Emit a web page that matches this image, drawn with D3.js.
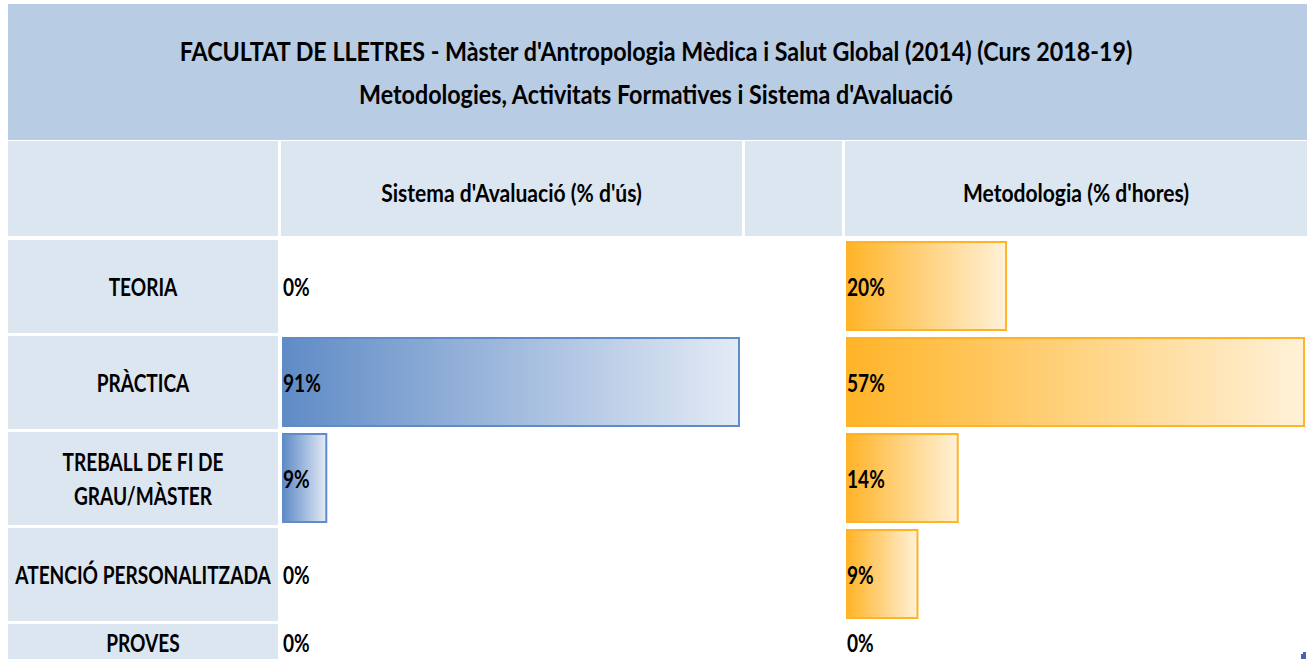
<!DOCTYPE html>
<html>
<head>
<meta charset="utf-8">
<script src="https://cdn.jsdelivr.net/npm/d3@7"></script>
<style>
  html, body { margin: 0; padding: 0; background: #ffffff; }
  svg { display: block; }
  text { font-family: Lato, "Open Sans", "Liberation Sans", sans-serif; font-weight: bold; fill: #000; }
</style>
</head>
<body>
<svg id="chart" width="1307" height="659"></svg>
<script>
// Title lines of the report
const titleLines = [
  "FACULTAT DE LLETRES - Màster d'Antropologia Mèdica i Salut Global (2014) (Curs 2018-19)",
  "Metodologies, Activitats Formatives i Sistema d'Avaluació"
];
// Column headers
const columnTitles = ["Sistema d'Avaluació (% d'ús)", "Metodologia (% d'hores)"];
// Row categories (label lines split for wrapping)
const categories = ["TEORIA", "PRÀCTICA", "TREBALL DE FI DE GRAU/MÀSTER", "ATENCIÓ PERSONALITZADA", "PROVES"];
const categoryLines = [["TEORIA"], ["PRÀCTICA"], ["TREBALL DE FI DE", "GRAU/MÀSTER"], ["ATENCIÓ PERSONALITZADA"], ["PROVES"]];
// Percentages per category
const avaluacio = [0, 91, 9, 0, 0];
const metodologia = [20, 57, 14, 9, 0];

const svg = d3.select("#chart");
const headerFill = "#b8cce4";
const cellFill = "#dce6f1";

// Condensed lettering: glyphs are squeezed horizontally; the base factor
// makes the first title line span the title band.
const probe = svg.append("text").style("font-size", "24px").text(titleLines[0]);
const k0 = 953 / probe.node().getComputedTextLength();
probe.remove();
const styles = {
  title:  { size: 27, sx: k0 * 24 / 27 },
  header: { size: 25, sx: k0 * 0.869 },
  cell:   { size: 24, sx: k0 * 0.82 }
};
function label(sel, role, x, y) {
  const st = styles[role];
  return sel.style("font-size", st.size + "px")
    .attr("transform", (d, i) => `translate(${x(d, i)},${y(d, i)}) scale(${st.sx},1)`);
}

// Gradients for the data bars
const defs = svg.append("defs");
function gradient(id, from, to) {
  const g = defs.append("linearGradient").attr("id", id)
    .attr("x1", "0%").attr("x2", "100%").attr("y1", "0%").attr("y2", "0%");
  g.append("stop").attr("offset", "0%").attr("stop-color", from);
  g.append("stop").attr("offset", "100%").attr("stop-color", to);
}
gradient("gradBlue", "#5f8bc6", "#e3eaf5");
gradient("gradOrange", "#ffb428", "#fff1d8");

// Title band
svg.append("rect").attr("x", 8).attr("y", 4).attr("width", 1299).attr("height", 136).attr("fill", headerFill);
label(svg.selectAll("text.title").data(titleLines).join("text").attr("class", "title"), "title",
  () => 656, (d, i) => 61 + i * 43)
  .attr("text-anchor", "middle")
  .text(d => d);

// Header row cells
const headerCells = [
  { x0: 8, x1: 278, text: "" },
  { x0: 281, x1: 742, text: columnTitles[0] },
  { x0: 745, x1: 842, text: "" },
  { x0: 845, x1: 1307, text: columnTitles[1] }
];
svg.selectAll("rect.hcell").data(headerCells).join("rect")
  .attr("class", "hcell")
  .attr("x", d => d.x0).attr("y", 141).attr("width", d => d.x1 - d.x0).attr("height", 95)
  .attr("fill", cellFill);
label(svg.selectAll("text.htext").data(headerCells.filter(d => d.text)).join("text").attr("class", "htext"), "header",
  d => (d.x0 + d.x1) / 2, () => 202)
  .attr("text-anchor", "middle")
  .text(d => d.text);

// Row scale; the last row is cut short by the bottom of the sheet
const y = d3.scaleBand().domain(categories).range([240, 717]).paddingInner(3 / 96).paddingOuter(0);
const sheetBottom = 660;
const rowTop = c => y(c);
const rowBottom = c => Math.min(y(c) + y.bandwidth(), sheetBottom);
const rowMid = c => (rowTop(c) + rowBottom(c)) / 2;

// Row label cells
const rows = svg.selectAll("g.row").data(categories).join("g").attr("class", "row");
rows.append("rect")
  .attr("x", 8).attr("y", d => rowTop(d)).attr("width", 270).attr("height", d => rowBottom(d) - rowTop(d))
  .attr("fill", cellFill);
rows.each(function (d, i) {
  const lines = categoryLines[i];
  const lh = 34;
  label(d3.select(this).selectAll("text").data(lines).join("text"), "cell",
    () => 143, (l, j) => rowMid(d) + 9.5 + (j - (lines.length - 1) / 2) * lh)
    .attr("text-anchor", "middle")
    .text(l => l);
});

// Value scales
const xA = d3.scaleLinear().domain([0, d3.max(avaluacio)]).range([282, 740]);
const xM = d3.scaleLinear().domain([0, d3.max(metodologia)]).range([846, 1305]);

function drawBars(values, x, fill, stroke, cls) {
  const data = categories.map((c, i) => ({ c, v: values[i] }));
  svg.selectAll("rect." + cls).data(data.filter(d => d.v > 0)).join("rect")
    .attr("class", cls)
    .attr("x", x(0) + 1)
    .attr("y", d => y(d.c) + 2)
    .attr("width", d => x(d.v) - x(0) - 2)
    .attr("height", y.bandwidth() - 5)
    .attr("fill", fill)
    .attr("stroke", stroke)
    .attr("stroke-width", 2);
  label(svg.selectAll("text." + cls).data(data).join("text").attr("class", cls), "cell",
    () => x(0) + 1, d => rowMid(d.c) + 9.5)
    .text(d => d.v + "%");
}
drawBars(avaluacio, xA, "url(#gradBlue)", "#5f8bc6", "barA");
drawBars(metodologia, xM, "url(#gradOrange)", "#ffb428", "barM");

// Small selection handle in the bottom-right corner
svg.append("path").attr("d", "M1301,654 h5 v5 h-5 z M1303,652 h3 v2 h-3 z").attr("fill", "#4f5fb0");
</script>
</body>
</html>
